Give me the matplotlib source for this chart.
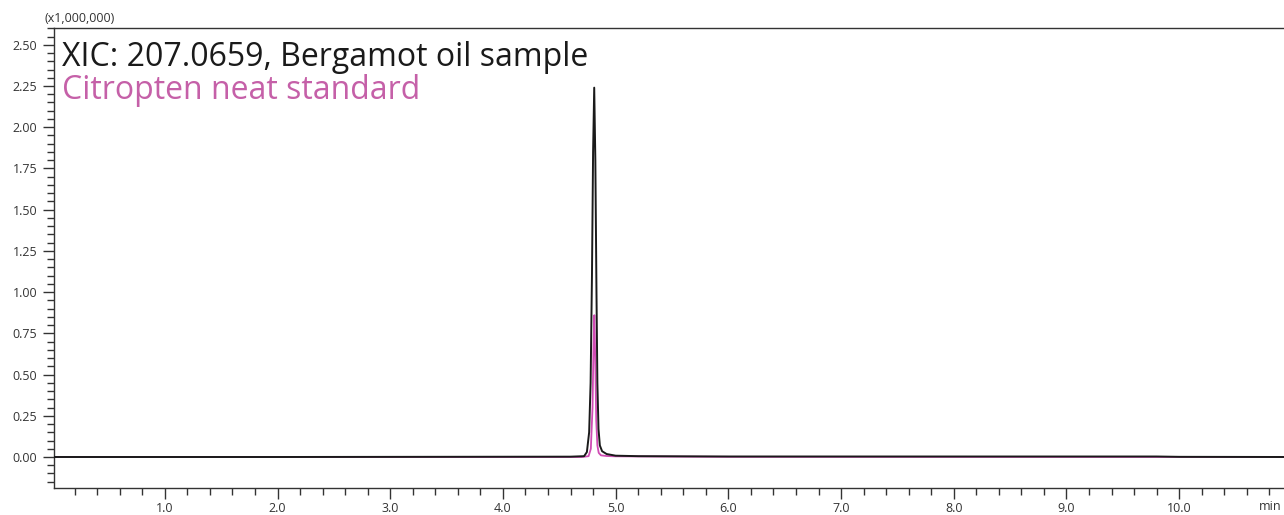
import matplotlib
matplotlib.use("Agg")
import matplotlib.pyplot as plt
from matplotlib.ticker import MultipleLocator, FixedLocator

plt.rcParams['font.family'] = ['Open Sans', 'DejaVu Sans']

# Retention time (min) and intensity (x1,000,000)
sample_time = [0.0, 2.0, 4.60, 4.72, 4.745, 4.765, 4.778, 4.79, 4.80, 4.81,
               4.82, 4.83, 4.838, 4.848, 4.86, 4.88, 4.92, 5.0, 5.2, 6.0,
               7.0, 8.0, 9.0, 9.8, 10.0, 10.93]
sample_int = [0.0, 0.0, 0.002, 0.005, 0.03, 0.15, 0.45, 1.10, 1.85, 2.24,
              1.80, 1.00, 0.45, 0.17, 0.07, 0.035, 0.018, 0.008, 0.005, 0.003,
              0.003, 0.003, 0.003, 0.003, 0.001, 0.0]

std_time = [0.0, 4.70, 4.76, 4.78, 4.795, 4.803, 4.811, 4.819, 4.828, 4.838,
            4.85, 4.87, 4.92, 5.0, 6.0, 10.93]
std_int = [0.0, 0.0, 0.005, 0.05, 0.30, 0.65, 0.86, 0.60, 0.22, 0.07,
           0.025, 0.01, 0.006, 0.004, 0.001, 0.0]

x_major = [1.0, 2.0, 3.0, 4.0, 5.0, 6.0, 7.0, 8.0, 9.0, 10.0]
x_labels = ["1.0", "2.0", "3.0", "4.0", "5.0", "6.0", "7.0", "8.0", "9.0", "10.0"]
y_major = [0.0, 0.25, 0.5, 0.75, 1.0, 1.25, 1.5, 1.75, 2.0, 2.25, 2.5]
y_labels = ["0.00", "0.25", "0.50", "0.75", "1.00", "1.25", "1.50", "1.75",
            "2.00", "2.25", "2.50"]

title1 = "XIC: 207.0659, Bergamot oil sample"
title2 = "Citropten neat standard"

BLACK = "#1a1a1a"
MAGENTA = "#c560a8"
TXT = "#333333"

fig = plt.figure(figsize=(12.84, 5.15), dpi=100)
ax = fig.add_axes([54 / 1284, 1 - 487.5 / 515, 1 - 54 / 1284, (487.5 - 28.3) / 515])

ax.plot(std_time, std_int, color="#d04cb4", lw=1.3, zorder=2)
ax.plot(sample_time, sample_int, color=BLACK, lw=1.4, zorder=3)

ax.set_xlim(0.017, 10.93)
ax.set_ylim(-0.185, 2.60)

ax.spines['right'].set_visible(False)
for s in ['left', 'bottom', 'top']:
    ax.spines[s].set_color("#333333")
    ax.spines[s].set_linewidth(1.0)

ax.xaxis.set_major_locator(FixedLocator(x_major))
ax.set_xticklabels(x_labels)
ax.xaxis.set_minor_locator(MultipleLocator(0.2))
ax.yaxis.set_major_locator(FixedLocator(y_major))
ax.set_yticklabels(y_labels)
ax.yaxis.set_minor_locator(MultipleLocator(0.05))

ax.tick_params(axis='both', which='major', direction='out', length=8, width=1.0,
               color="#333333", labelsize=9, labelcolor=TXT)
ax.tick_params(axis='both', which='minor', direction='out', length=5, width=1.0,
               color="#333333")
ax.tick_params(axis='x', which='major', pad=2.5)
ax.tick_params(axis='y', which='major', pad=4)

fig.text(45 / 1284, 1 - 18 / 515, "(x1,000,000)", fontsize=9, color=TXT,
         ha='left', va='center')
fig.text(1282 / 1284, 1 - 506 / 515, "min", fontsize=9, color=TXT,
         ha='right', va='center')

fig.text(62 / 1284, 1 - 66 / 515, title1, fontsize=23, color=BLACK,
         ha='left', va='baseline')
fig.text(62 / 1284, 1 - 99 / 515, title2, fontsize=23, color=MAGENTA,
         ha='left', va='baseline')

fig.savefig("out.png", dpi=100)
